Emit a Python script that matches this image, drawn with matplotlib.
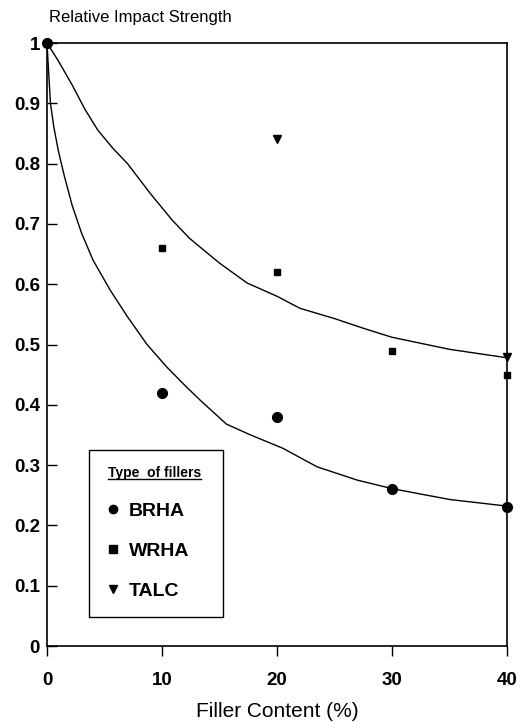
import matplotlib
matplotlib.use("Agg")
import matplotlib.pyplot as plt
from matplotlib.lines import Line2D
from matplotlib.patches import Rectangle

plt.rcParams['font.family'] = ['Liberation Sans', 'DejaVu Sans']

# measured points
brha_x = [0, 10, 20, 30, 40]
brha_y = [1.0, 0.42, 0.38, 0.26, 0.23]
wrha_x = [10, 20, 30, 40]
wrha_y = [0.66, 0.62, 0.49, 0.45]
talc_x = [20, 40]
talc_y = [0.84, 0.48]

# fitted curves
upper_x = [0, 1, 2.2, 3.3, 4.4, 5.7, 7, 9, 10.9, 12.4, 15, 17.4, 20, 22, 25, 27.5, 30, 35, 40]
upper_y = [1.0, 0.97, 0.93, 0.89, 0.856, 0.826, 0.80, 0.75, 0.706, 0.676, 0.635, 0.602,
           0.58, 0.56, 0.543, 0.527, 0.512, 0.492, 0.478]
lower_x = [0, 0.15, 0.3, 0.6, 1.0, 1.5, 2.2, 3.0, 4.0, 5.5, 7, 8.7, 10.4, 12, 13.3, 15.6,
           17.7, 20.5, 23.5, 27, 30, 35, 40]
lower_y = [1.0, 0.95, 0.90, 0.86, 0.82, 0.78, 0.73, 0.685, 0.64, 0.59, 0.546, 0.50, 0.463,
           0.432, 0.408, 0.368, 0.35, 0.328, 0.297, 0.275, 0.261, 0.243, 0.232]

x_ticks = [0, 10, 20, 30, 40]
y_ticks = [0, 0.1, 0.2, 0.3, 0.4, 0.5, 0.6, 0.7, 0.8, 0.9, 1]
y_ticklabels = ['0', '0.1', '0.2', '0.3', '0.4', '0.5', '0.6', '0.7', '0.8', '0.9', '1']

fig = plt.figure(figsize=(5.21, 7.23), dpi=100)
ax = fig.add_axes([0.0902, 0.1065, 0.8830, 0.834])

ax.plot(upper_x, upper_y, color='black', lw=1.0)
ax.plot(lower_x, lower_y, color='black', lw=1.0)

ax.plot(brha_x, brha_y, 'o', color='black', ms=7, clip_on=False, label='BRHA')
ax.plot(wrha_x, wrha_y, 's', color='black', ms=4.5, clip_on=False, label='WRHA')
ax.plot(talc_x, talc_y, 'v', color='black', ms=6, clip_on=False, label='TALC')

ax.set_xlim(0, 40)
ax.set_ylim(0, 1)
ax.set_xticks(x_ticks)
ax.set_yticks(y_ticks)
ax.set_yticklabels(y_ticklabels)
ax.tick_params(axis='y', direction='in', length=7, width=1, labelsize=13.5, pad=5)
ax.tick_params(axis='x', direction='out', length=7, width=1, labelsize=13.5, pad=12)
for lab in ax.get_xticklabels() + ax.get_yticklabels():
    lab.set_fontweight('bold')
for s in ax.spines.values():
    s.set_linewidth(1.2)

ax.set_xlabel('Filler Content (%)', fontsize=15, labelpad=9)
fig.text(0.094, 0.976, 'Relative Impact Strength', fontsize=12, ha='left', va='center')

# legend frame
ax.add_patch(Rectangle((0.0913, 0.048), 0.2913, 0.277, transform=ax.transAxes,
                       fill=True, facecolor='white', edgecolor='black', lw=1.0, zorder=4))

leg = ax.legend(loc='upper left', bbox_to_anchor=(0.1326, 0.298),
                frameon=False, borderpad=0, labelspacing=1.15, handlelength=0.5,
                handletextpad=0.58, borderaxespad=0, title='Type  of fillers',
                prop={'size': 14, 'weight': 'bold'},
                title_fontproperties={'size': 10, 'weight': 'bold'})
leg.set_zorder(5)
leg._legend_box.align = 'left'
for h in leg.legend_handles:
    h.set_markersize(6)

fig.canvas.draw()
tt = leg.get_title()
bb = tt.get_window_extent().transformed(fig.transFigure.inverted())
fig.add_artist(Line2D([bb.x0, bb.x1], [bb.y0 + 0.002, bb.y0 + 0.002],
                      transform=fig.transFigure, color='black', lw=1.0))

fig.savefig('out.png', dpi=100)
